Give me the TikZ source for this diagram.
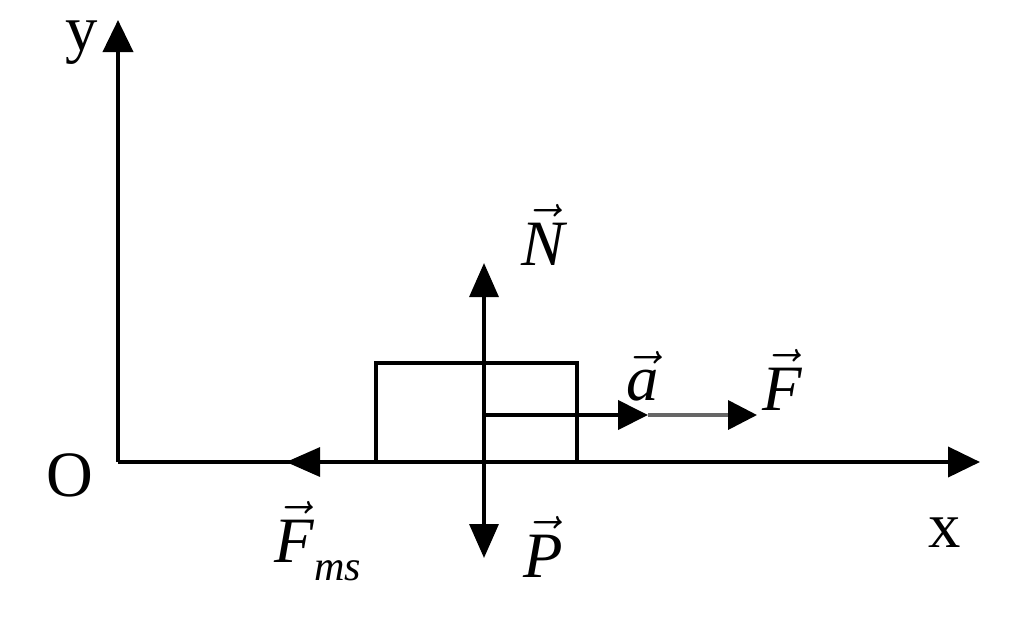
\documentclass[tikz,border=0pt]{standalone}
\usepackage{fix-cm}
\usepackage{amsmath}
\usepackage{fontspec}
\setmainfont{Liberation Serif}
\usetikzlibrary{arrows.meta}
\newcommand\vlab[1]{\ensuremath{\vec{\text{\itshape #1}}}}
\begin{document}
\begin{tikzpicture}[x=0.025cm,y=-0.025cm,
  axis/.style={line width=2.8pt,-{Triangle[length=0.8cm,width=0.75cm]}},
  force/.style={line width=2.8pt,-{Triangle[length=0.85cm,width=0.72cm]}},
  accel/.style={line width=3.4pt,-{Triangle[length=0.75cm,width=0.72cm]}},
  thin force/.style={line width=2.6pt,draw=black!60,-{Triangle[length=0.72cm,width=0.72cm,color=black,fill=black]}},
  block/.style={draw,line width=2.2pt,minimum width=5.025cm,minimum height=2.475cm,inner sep=0pt,outer sep=0pt},
  lab/.style={inner sep=0pt,anchor=base,font=\fontsize{46}{50}\selectfont}]
\useasboundingbox (0,0) rectangle (1024,621);
% axes
\coordinate (O) at (118,462);
\coordinate (ytip) at (118,20);
\coordinate (xtip) at (980,462);
\draw[axis] (O) -- (ytip);
\draw[axis] (O) -- (xtip);
% block
\node[block] (blk) at (476.5,412.5) {};
% force arrows
\coordinate (c) at (484,415);
\coordinate (Ntip) at (484,263);
\coordinate (Ptip) at (484,558);
\coordinate (atip) at (648,415);
\coordinate (Ftip) at (757,415);
\coordinate (Fmstip) at (286,462);
\draw[force] (c) -- (Ntip);
\draw[force] (c) -- (Ptip);
\draw[thin force] (atip) -- (Ftip);
\draw[accel] (c) -- (atip);
\draw[force] (blk.south west) -- (Fmstip);
% labels
\node[lab] (ylab) at (82,50) {y};
\node[lab] (Olab) at (70,496) {O};
\node[lab] (xlab) at (945,547) {x};
\node[lab] (Nlab) at (543,265) {\vlab{N}};
\node[lab] (alab) at (643,400) {\vlab{a}};
\node[lab] (Flab) at (782,410) {\vlab{F}};
\node[lab] (Fmslab) at (318,562) {\vlab{F}\raisebox{-0.45cm}{\fontsize{30}{30}\selectfont\itshape ms}};
\node[lab] (Plab) at (543,577) {\vlab{P}};
\end{tikzpicture}
\end{document}
